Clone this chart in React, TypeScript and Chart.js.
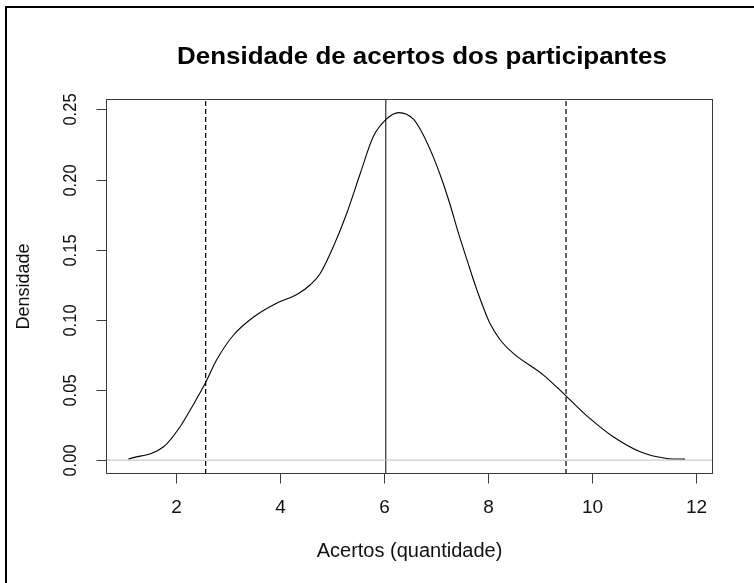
import React, { useEffect, useRef } from "react";
import { Chart, registerables } from "chart.js";

Chart.register(...registerables);

// Density curve
const densityX = [1.095, 1.77, 2.09, 2.34, 2.58, 2.79, 3.11, 3.5, 3.95, 4.33, 4.59, 4.78, 5.03, 5.29, 5.55, 5.8, 6.05, 6.29, 6.57, 6.76, 6.95, 7.12, 7.28, 7.43, 7.6, 7.79, 8.04, 8.24, 8.49, 9.07, 9.52, 9.96, 10.41, 10.93, 11.44, 11.79];
const densityY = [0.0007, 0.0095, 0.024, 0.0395, 0.0555, 0.0715, 0.089, 0.102, 0.112, 0.118, 0.125, 0.133, 0.152, 0.176, 0.2045, 0.2306, 0.243, 0.2477, 0.243, 0.2318, 0.2163, 0.1997, 0.1815, 0.1625, 0.1427, 0.1213, 0.0975, 0.0856, 0.0761, 0.0606, 0.0451, 0.0297, 0.0166, 0.0059, 0.0012, 0.0007];

// Reference lines: mean (solid) and mean ± 2 sd (dashed)
const meanLine = 6.04;
const sdLines = [2.578, 9.503];

const xTicks = [2, 4, 6, 8, 10, 12];
const yTicks = [0.0, 0.05, 0.1, 0.15, 0.2, 0.25];
const yTickLabels = ["0.00", "0.05", "0.10", "0.15", "0.20", "0.25"];

const xLimits = [0.663, 12.327];
const yLimits = [-0.0099, 0.2574];

const titleText = "Densidade de acertos dos participantes";
const xTitle = "Acertos (quantidade)";
const yTitle = "Densidade";

const FONT = "'Liberation Sans', Arial, sans-serif";

const rPlot = {
  id: "rPlot",
  beforeDraw(chart: any) {
    const ctx = chart.ctx;
    ctx.save();
    ctx.fillStyle = "#ffffff";
    ctx.fillRect(0, 0, chart.width, chart.height);
    ctx.restore();
  },
  afterDraw(chart: any) {
    const ctx = chart.ctx;
    const a = chart.chartArea;
    const xs = chart.scales.x;
    const ys = chart.scales.y;
    ctx.save();
    // outer frame (left and top only)
    ctx.fillStyle = "#000000";
    ctx.fillRect(5, 6, 2, chart.height - 6);
    ctx.fillRect(5, 6, chart.width - 5, 2);

    // plot box
    ctx.strokeStyle = "#3a3a3a";
    ctx.lineWidth = 1;
    const L = Math.round(a.left) + 0.5;
    const R = Math.round(a.right) - 0.5;
    const T = Math.round(a.top) + 0.5;
    const B = Math.round(a.bottom) - 0.5;
    ctx.strokeRect(L, T, R - L, B - T);

    // x ticks
    ctx.fillStyle = "#111111";
    ctx.font = `19px ${FONT}`;
    ctx.textAlign = "center";
    ctx.textBaseline = "middle";
    xTicks.forEach((v) => {
      const px = Math.round(xs.getPixelForValue(v)) + 0.5;
      ctx.beginPath();
      ctx.moveTo(px, B);
      ctx.lineTo(px, B + 10);
      ctx.stroke();
      ctx.fillText(String(v), px, 508);
    });
    // y ticks
    ctx.font = `16.5px ${FONT}`;
    yTicks.forEach((v, i) => {
      const py = Math.round(ys.getPixelForValue(v)) + 0.5;
      ctx.beginPath();
      ctx.moveTo(L, py);
      ctx.lineTo(L - 10, py);
      ctx.stroke();
      ctx.save();
      ctx.translate(70.5, py);
      ctx.rotate(-Math.PI / 2);
      ctx.scale(1, 1.12);
      ctx.fillText(yTickLabels[i], 0, 0);
      ctx.restore();
    });

    // titles
    const cx = (a.left + a.right) / 2;
    const cy = (a.top + a.bottom) / 2;
    ctx.fillStyle = "#000000";
    ctx.font = `bold 24px ${FONT}`;
    ctx.save();
    ctx.translate(422, 57);
    ctx.scale(1.08, 1);
    ctx.fillText(titleText, 0, 0);
    ctx.restore();
    ctx.fillStyle = "#111111";
    ctx.font = `20px ${FONT}`;
    ctx.fillText(xTitle, cx, 551);
    ctx.font = `18px ${FONT}`;
    ctx.save();
    ctx.translate(24, cy);
    ctx.rotate(-Math.PI / 2);
    ctx.fillText(yTitle, 0, 0);
    ctx.restore();
    ctx.restore();
  },
};

export default function App() {
  const ref = useRef<HTMLCanvasElement>(null);
  useEffect(() => {
    if (!ref.current) return;
    const curve = densityX.map((x, i) => ({ x, y: densityY[i] }));
    const vline = (x: number) => [
      { x, y: yLimits[0] },
      { x, y: yLimits[1] },
    ];
    const chart = new Chart(ref.current, {
      type: "scatter",
      data: {
        datasets: [
          {
            data: [
              { x: xLimits[0], y: 0 },
              { x: xLimits[1], y: 0 },
            ],
            showLine: true,
            borderColor: "#bebebe",
            borderWidth: 1,
            pointRadius: 0,
          },
          {
            data: curve,
            showLine: true,
            borderColor: "#000000",
            borderWidth: 1.1,
            pointRadius: 0,
            cubicInterpolationMode: "monotone",
          },
          {
            data: vline(meanLine),
            showLine: true,
            borderColor: "#000000",
            borderWidth: 1,
            pointRadius: 0,
          },
          ...sdLines.map((x) => ({
            data: vline(x),
            showLine: true,
            borderColor: "#000000",
            borderWidth: 1.2,
            borderDash: [5, 3],
            pointRadius: 0,
          })),
        ],
      },
      options: {
        responsive: false,
        animation: false,
        devicePixelRatio: 1,
        layout: { padding: { left: 106, right: 41, top: 99, bottom: 109 } },
        plugins: { legend: { display: false }, tooltip: { enabled: false } },
        scales: {
          x: { type: "linear", min: xLimits[0], max: xLimits[1], display: false },
          y: { type: "linear", min: yLimits[0], max: yLimits[1], display: false },
        },
      } as any,
      plugins: [rPlot],
    });
    return () => chart.destroy();
  }, []);
  return (
    <div style={{ position: "fixed", left: 0, top: 0, width: 754, height: 583 }}>
      <canvas ref={ref} width={754} height={583} />
    </div>
  );
}
